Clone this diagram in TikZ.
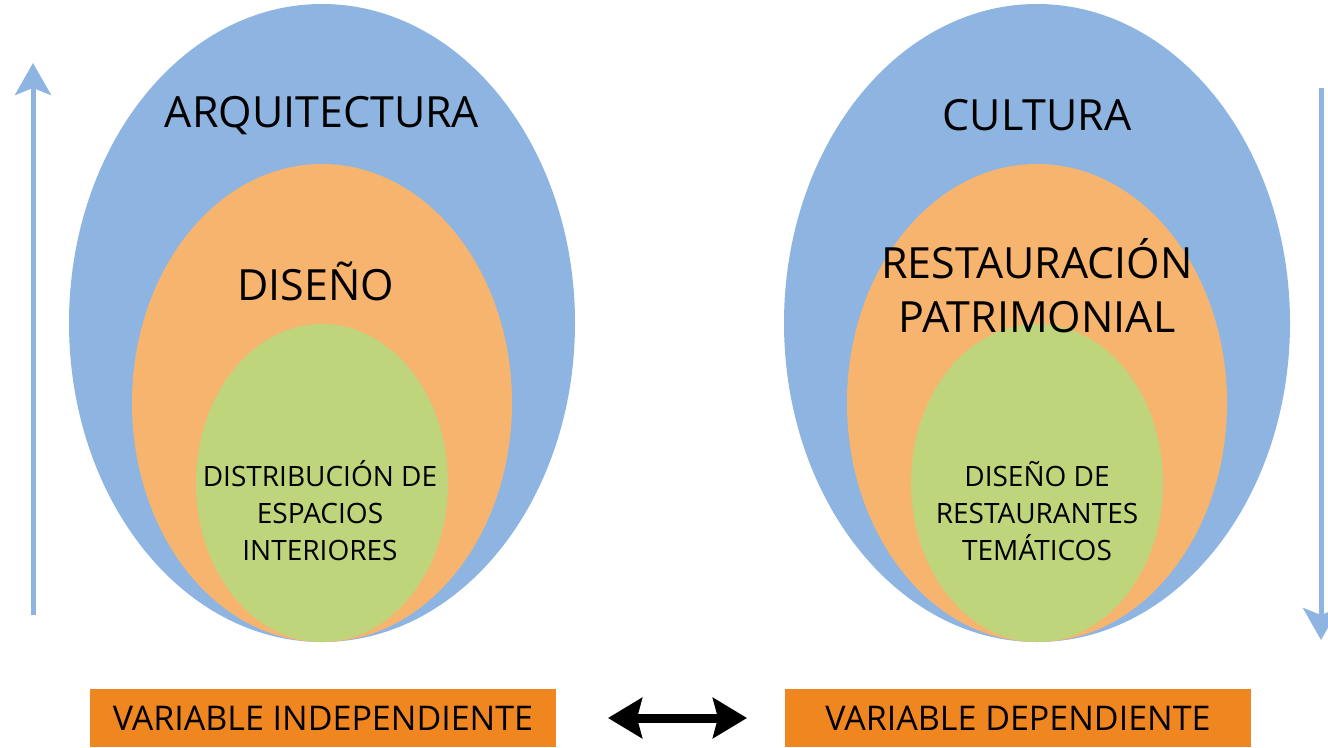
\documentclass[tikz,border=0pt]{standalone}
\usepackage{fontspec}
\setmainfont{Open Sans}
\usetikzlibrary{arrows.meta}
\definecolor{outerblue}{HTML}{8EB4E2}
\definecolor{midorange}{HTML}{F7B46F}
\definecolor{innergreen}{HTML}{BED57C}
\definecolor{varorange}{HTML}{F0861F}

\begin{document}
\begin{tikzpicture}[x=1pt,y=-1pt,
    bigtext/.style={font=\fontsize{43}{54}\selectfont, align=center},
    smalltext/.style={font=\fontsize{28}{37}\selectfont, align=center},
    varbox/.style={fill=varorange, minimum width=466pt, minimum height=58pt,
      inner sep=0pt, font=\fontsize{34}{38}\selectfont},
    scalearrow/.style={outerblue, line width=5pt, -{Stealth[length=32pt,width=36pt,inset=7pt]}}]
    \useasboundingbox (0,0) rectangle (1328,747);
    % left set
    \fill[outerblue] (322,323) ellipse [x radius=253, y radius=319];
    \fill[midorange] (322,403) ellipse [x radius=190, y radius=239];
    \fill[innergreen] (322,483) ellipse [x radius=126, y radius=159];
    \node[bigtext] (arq) at (322,116) {ARQUITECTURA};
    \node[bigtext] (dis) at (316,281) {DISEÑO};
    \node[smalltext] (dist) at (320,511) {DISTRIBUCIÓN DE\\ESPACIOS\\INTERIORES};
    % right set
    \fill[outerblue] (1037,323) ellipse [x radius=253, y radius=319];
    \fill[midorange] (1037,403) ellipse [x radius=190, y radius=239];
    \fill[innergreen] (1037,483) ellipse [x radius=126, y radius=159];
    \node[bigtext] (cul) at (1037,115) {CULTURA};
    \node[bigtext] (rest) at (1037,286) {RESTAURACIÓN\\PATRIMONIAL};
    \node[smalltext] (tem) at (1037,511) {DISEÑO DE\\RESTAURANTES\\TEMÁTICOS};
    % scale arrows
    \coordinate (upbot) at (33,615);
    \coordinate (uptop) at (33,63);
    \coordinate (dntop) at (1321,88);
    \coordinate (dnbot) at (1321,640);
    \draw[scalearrow] (upbot) -- (uptop);
    \draw[scalearrow] (dntop) -- (dnbot);
    % variables
    \node[varbox] (indep) at (323,718) {VARIABLE INDEPENDIENTE};
    \node[varbox] (dep) at (1018,718) {VARIABLE DEPENDIENTE};
    \coordinate (linkl) at (608,718);
    \coordinate (linkr) at (747,718);
    \draw[line width=9pt, {Stealth[length=34pt,width=40pt,inset=5pt]}-{Stealth[length=34pt,width=40pt,inset=5pt]}]
        (linkl) -- (linkr);
\end{tikzpicture}
\end{document}
